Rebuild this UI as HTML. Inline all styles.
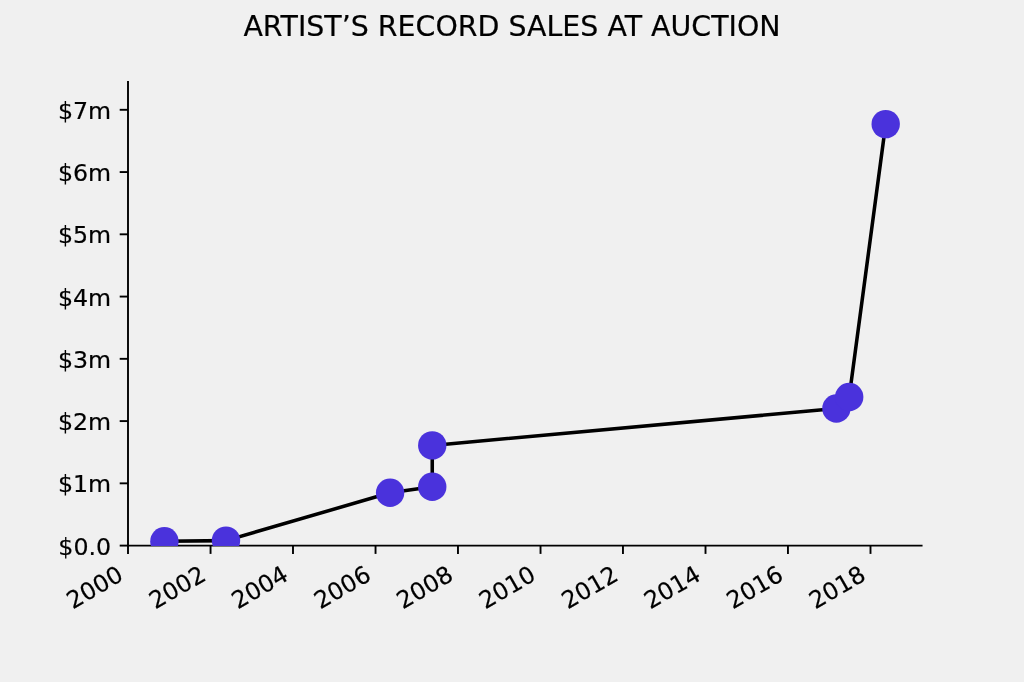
<!DOCTYPE html>
<html lang="en">
<head>
<meta charset="utf-8">
<title>Artist’s record sales at auction</title>
<style>
html,body{margin:0;padding:0;background:#f0f0f0;}
body{width:1024px;height:682px;overflow:hidden;}
svg{display:block;}
text{font-family:"DejaVu Sans","Liberation Sans",sans-serif;fill:#000;stroke:#000;stroke-width:0.2px;stroke-linejoin:round;}
.tick{font-size:23.7px;}
.title{font-size:28.44px;text-anchor:middle;}
.ax{stroke:#000;stroke-width:1.9;fill:none;}
</style>
</head>
<body>
<svg width="1024" height="682" viewBox="0 0 1024 682">
<defs><clipPath id="axclip"><rect x="128" y="81.84" width="793.6" height="463.76"/></clipPath><clipPath id="mkclip"><rect x="128" y="81.84" width="793.6" height="464.26"/></clipPath></defs>
<rect x="0" y="0" width="1024" height="682" fill="#f0f0f0"/>
<g clip-path="url(#axclip)">
<polyline points="164.4,541.3 226,540.6 390.1,492.8 432.25,486.7 432.25,445.4 836.4,408.5 849.2,397 885.7,124.1" fill="none" stroke="#000" stroke-width="3.56" stroke-linejoin="round" stroke-linecap="square"/>
</g>
<g class="ax">
<line x1="128" y1="545.6" x2="128" y2="553.9"/>
<line x1="210.55" y1="545.6" x2="210.55" y2="553.9"/>
<line x1="292.99" y1="545.6" x2="292.99" y2="553.9"/>
<line x1="375.54" y1="545.6" x2="375.54" y2="553.9"/>
<line x1="457.97" y1="545.6" x2="457.97" y2="553.9"/>
<line x1="540.53" y1="545.6" x2="540.53" y2="553.9"/>
<line x1="622.96" y1="545.6" x2="622.96" y2="553.9"/>
<line x1="705.51" y1="545.6" x2="705.51" y2="553.9"/>
<line x1="787.95" y1="545.6" x2="787.95" y2="553.9"/>
<line x1="870.5" y1="545.6" x2="870.5" y2="553.9"/>
<line x1="119.7" y1="545.6" x2="128" y2="545.6"/>
<line x1="119.7" y1="483.34" x2="128" y2="483.34"/>
<line x1="119.7" y1="421.09" x2="128" y2="421.09"/>
<line x1="119.7" y1="358.83" x2="128" y2="358.83"/>
<line x1="119.7" y1="296.57" x2="128" y2="296.57"/>
<line x1="119.7" y1="234.31" x2="128" y2="234.31"/>
<line x1="119.7" y1="172.06" x2="128" y2="172.06"/>
<line x1="119.7" y1="109.8" x2="128" y2="109.8"/>
<line x1="128" y1="81.84" x2="128" y2="545.6" stroke-linecap="square"/>
<line x1="128" y1="545.6" x2="921.6" y2="545.6" stroke-linecap="square"/>
</g>
<g clip-path="url(#mkclip)" fill="#4a32dc">
<circle cx="164.4" cy="541.3" r="14.2"/>
<circle cx="226" cy="540.6" r="14.2"/>
<circle cx="390.1" cy="492.8" r="14.2"/>
<circle cx="432.25" cy="486.7" r="14.2"/>
<circle cx="432.25" cy="445.4" r="14.2"/>
<circle cx="836.4" cy="408.5" r="14.2"/>
<circle cx="849.2" cy="397" r="14.2"/>
<circle cx="885.7" cy="124.1" r="14.2"/>
</g>
<text class="tick" transform="translate(72.69 609.45) rotate(-30)">2000</text>
<text class="tick" transform="translate(155.24 609.45) rotate(-30)">2002</text>
<text class="tick" transform="translate(237.68 609.45) rotate(-30)">2004</text>
<text class="tick" transform="translate(320.23 609.45) rotate(-30)">2006</text>
<text class="tick" transform="translate(402.67 609.45) rotate(-30)">2008</text>
<text class="tick" transform="translate(485.22 609.45) rotate(-30)">2010</text>
<text class="tick" transform="translate(567.65 609.45) rotate(-30)">2012</text>
<text class="tick" transform="translate(650.2 609.45) rotate(-30)">2014</text>
<text class="tick" transform="translate(732.64 609.45) rotate(-30)">2016</text>
<text class="tick" transform="translate(815.19 609.45) rotate(-30)">2018</text>
<text class="tick" text-anchor="end" x="111.11" y="554.61">$0.0</text>
<text class="tick" text-anchor="end" x="111.11" y="492.35">$1m</text>
<text class="tick" text-anchor="end" x="111.11" y="430.09">$2m</text>
<text class="tick" text-anchor="end" x="111.11" y="367.83">$3m</text>
<text class="tick" text-anchor="end" x="111.11" y="305.58">$4m</text>
<text class="tick" text-anchor="end" x="111.11" y="243.32">$5m</text>
<text class="tick" text-anchor="end" x="111.11" y="181.06">$6m</text>
<text class="tick" text-anchor="end" x="111.11" y="118.81">$7m</text>
<text class="title" x="512" y="35.95">ARTIST’S RECORD SALES AT AUCTION</text>
</svg>
</body>
</html>
